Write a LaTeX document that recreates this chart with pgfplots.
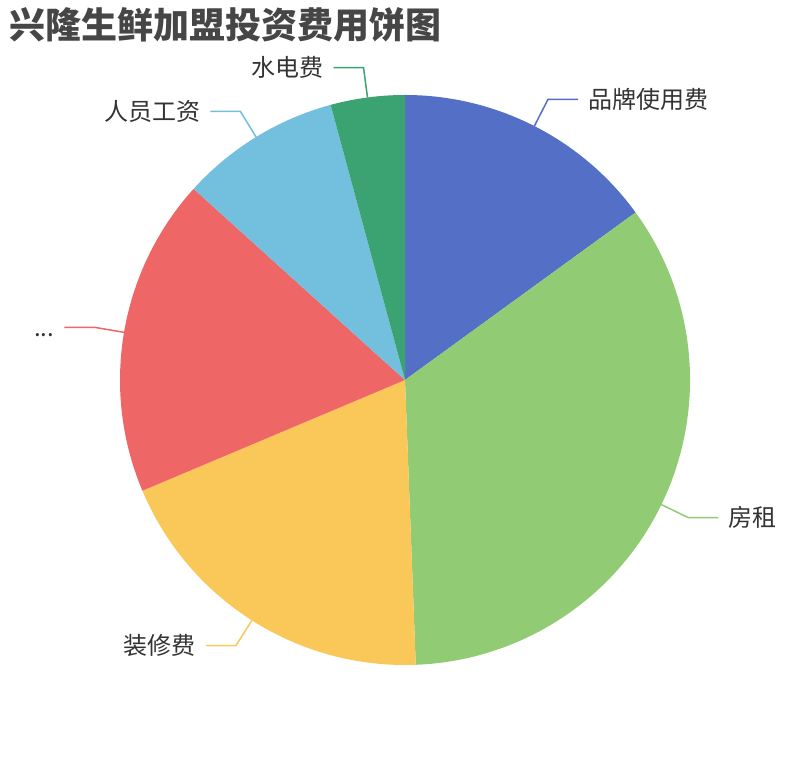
\documentclass[border=0pt]{standalone}
\usepackage{pgfplots}
\pgfplotsset{compat=1.18}
\usepackage{pgfplotstable}
\usepackage{fontspec}
\setmainfont{Noto Sans CJK SC}

\definecolor{c0}{HTML}{5470C6}
\definecolor{c1}{HTML}{91CC75}
\definecolor{c2}{HTML}{FAC858}
\definecolor{c3}{HTML}{EE6666}
\definecolor{c4}{HTML}{73C0DE}
\definecolor{c5}{HTML}{3BA272}
\definecolor{titlegray}{HTML}{464646}
\definecolor{labelgray}{HTML}{333333}

% share of each cost item, clockwise from 12 o'clock
\pgfplotstableread[col sep=comma]{
name,value,col
品牌使用费,15.0,c0
房租,34.4,c1
装修费,19.25,c2
...,18.05,c3
人员工资,9.1,c4
水电费,4.2,c5
}\piedata

\begin{document}
\begin{tikzpicture}
\fill[white] (0,0) rectangle (810pt,760pt);
\begin{axis}[
  width=810pt, height=760pt, scale only axis,
  xmin=0, xmax=810, ymin=-760, ymax=0,
  hide axis, clip=false,
]
\pgfplotsextra{
  \pgfplotstablegetrowsof{\piedata}
  \pgfmathtruncatemacro\lastrow{\pgfplotsretval-1}
  \gdef\total{0}
  \foreach \i in {0,...,\lastrow}{
    \pgfplotstablegetelem{\i}{value}\of\piedata
    \pgfmathsetmacro\tmp{\total+\pgfplotsretval}
    \xdef\total{\tmp}
  }
  \gdef\cum{0}
  \foreach \i in {0,...,\lastrow}{
    \pgfplotstablegetelem{\i}{value}\of\piedata
    \let\val\pgfplotsretval
    \pgfplotstablegetelem{\i}{col}\of\piedata
    \edef\col{\pgfplotsretval}
    \pgfplotstablegetelem{\i}{name}\of\piedata
    \let\lab\pgfplotsretval
    \pgfmathsetmacro\sa{90-\cum/\total*360}
    \pgfmathsetmacro\ea{90-(\cum+\val)/\total*360}
    \pgfmathsetmacro\ma{90-(\cum+\val/2)/\total*360}
    \pgfmathsetmacro\side{cos(\ma)>=0 ? 1 : -1}
    \fill[\col] (axis cs:405,-380) -- ++(\sa:285pt)
      arc[start angle=\sa, end angle=\ea, radius=285pt] -- cycle;
    \draw[\col, line width=1.5pt] (axis cs:405,-380) ++(\ma:285pt)
      -- ++(\ma:30pt) -- ++(\side*30pt,0pt) coordinate (lp);
    \ifdim\side pt>0pt
      \node[anchor=base west, text=labelgray, font=\fontsize{24}{26}\selectfont,
        inner sep=0pt, xshift=10pt, yshift=-9pt] at (lp) {\lab};
    \else
      \node[anchor=base east, text=labelgray, font=\fontsize{24}{26}\selectfont,
        inner sep=0pt, xshift=-10pt, yshift=-9pt] at (lp) {\lab};
    \fi
    \pgfmathsetmacro\tmp{\cum+\val}
    \xdef\cum{\tmp}
  }
}
\node[anchor=base west, text=titlegray, font=\fontsize{36}{40}\selectfont\bfseries,
  inner sep=0pt] at (axis cs:9,-39) {兴隆生鲜加盟投资费用饼图};
\end{axis}
\end{tikzpicture}
\end{document}
